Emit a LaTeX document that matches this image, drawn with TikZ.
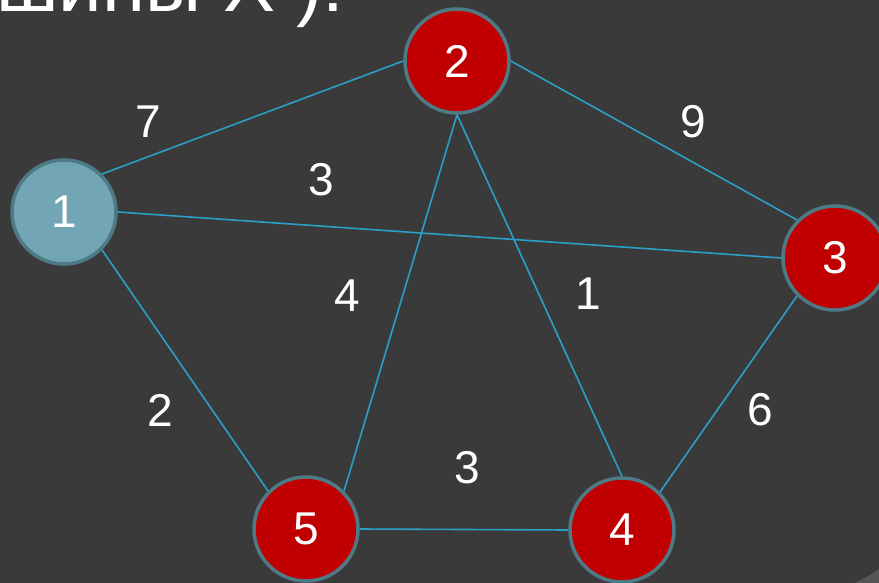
\documentclass[tikz,border=0pt]{standalone}
\usepackage{fontspec}
\setmainfont{Liberation Sans}
\begin{document}
\begin{tikzpicture}[x=1pt,y=-1pt,
  every node/.style={font=\fontsize{46}{50}\selectfont, text=white},
  vert/.style={circle, minimum size=104pt, inner sep=0pt, draw=ringc, line width=3.5pt},
  redv/.style={vert, fill=redc},
  bluev/.style={vert, fill=bluec},
  edge/.style={draw=edgec, line width=1.6pt},
  lbl/.style={inner sep=0pt}]
\definecolor{bgc}{HTML}{3A3A3A}
\definecolor{redc}{HTML}{C00000}
\definecolor{bluec}{HTML}{72A6B5}
\definecolor{ringc}{HTML}{4E7A86}
\definecolor{edgec}{HTML}{2AA0C6}
\definecolor{curl}{HTML}{555555}
\useasboundingbox (0,0) rectangle (879,583);
\clip (0,0) rectangle (879,583);
\fill[bgc] (0,0) rectangle (879,583);
\fill[curl] (855,583) .. controls (865,578) and (872,574) .. (879,569) -- (879,583) -- cycle;
\node[anchor=base west, inner sep=0pt, font=\fontsize{78}{86}\selectfont] (title) at (-4,12) {шины Х ):};
% vertices
\node[bluev] (n1) at (64,212) {1};
\node[redv] (n2) at (457,61) {2};
\node[redv] (n3) at (835,258) {3};
\node[redv] (n4) at (622,530) {4};
\node[redv] (n5) at (306,529) {5};
% edges
\path[edge] (n1.45) -- (n2.west);
\path[edge] (n1.east) -- (n3.west);
\path[edge] (n1.-45) -- (n5.135);
\path[edge] (n2.east) -- (n3.135);
\path[edge] (n2.south) -- (n5.45);
\path[edge] (n2.south) -- (n4.north);
\path[edge] (n3.-135) -- (n4.45);
\path[edge] (n5.east) -- (n4.west);
% labels
\node[lbl] (l12) at (148,122) {7};
\node[lbl] (l13) at (321,180) {3};
\node[lbl] (l23) at (693,122) {9};
\node[lbl] (l25) at (347,296) {4};
\node[lbl] (l24) at (588,294) {1};
\node[lbl] (l15) at (160,410) {2};
\node[lbl] (l34) at (760,410) {6};
\node[lbl] (l54) at (467,468) {3};
\end{tikzpicture}
\end{document}
